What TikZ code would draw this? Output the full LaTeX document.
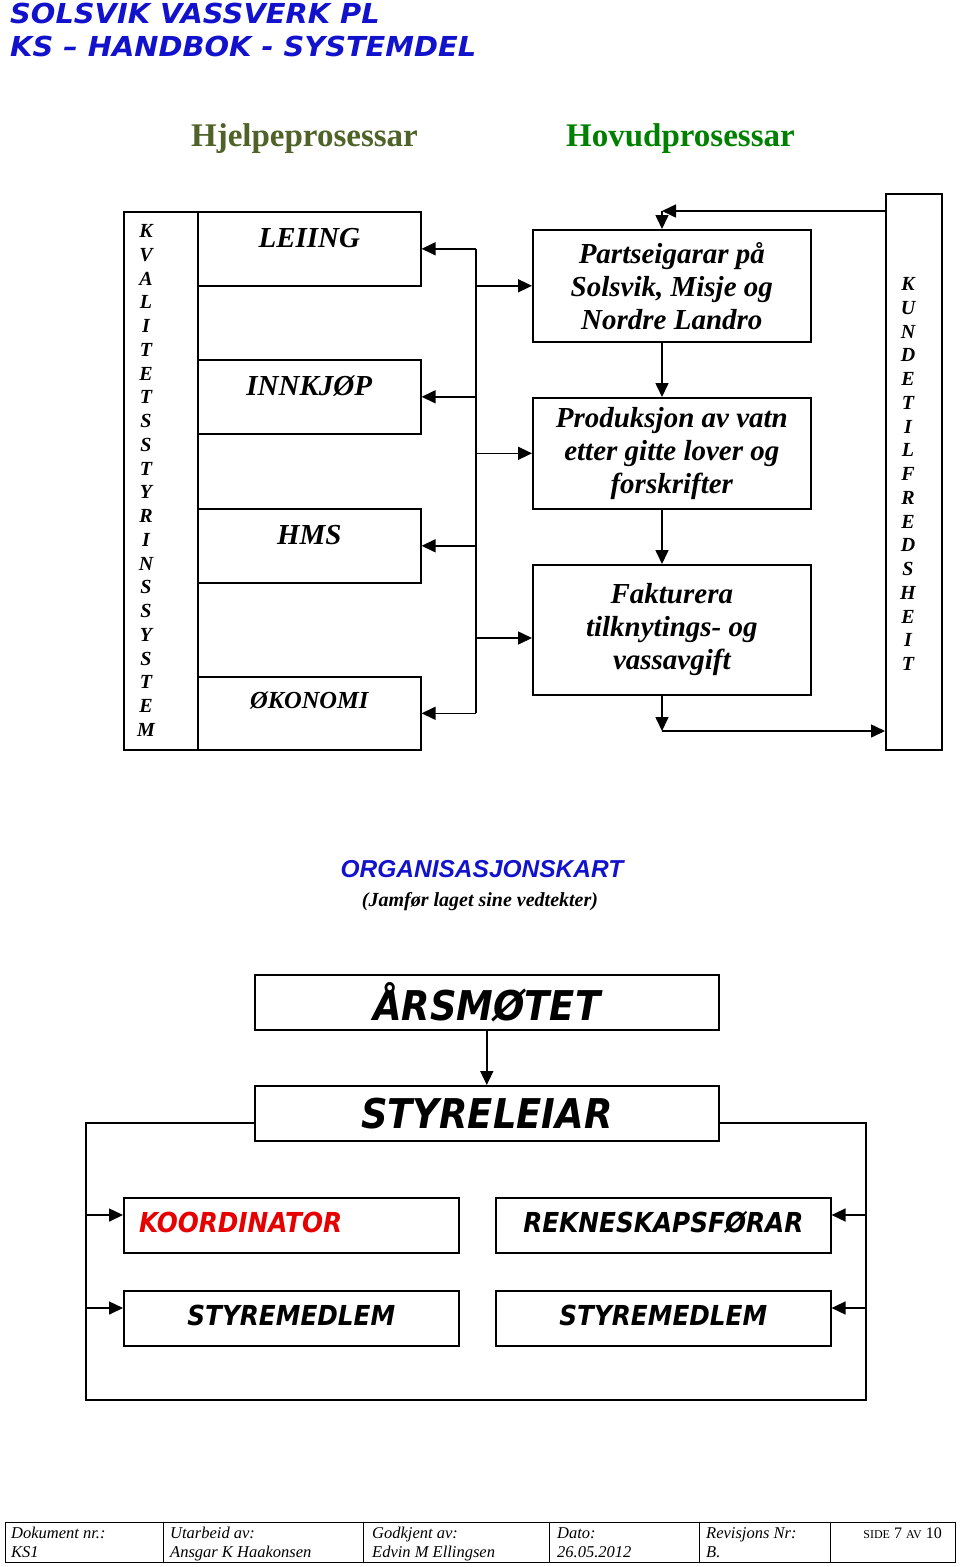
\documentclass[tikz,border=0pt]{standalone}
\usepackage{fontspec}
\setmainfont{Liberation Serif}
\newfontfamily\headfont[FakeStretch=1.05]{DejaVu Sans}
\newfontfamily\orgfont[FakeStretch=0.9]{DejaVu Sans}
\newfontfamily\arialfont{Liberation Sans}
\usetikzlibrary{positioning,arrows.meta}
\definecolor{headblue}{RGB}{18,18,205}
\definecolor{hjelpgreen}{RGB}{79,98,40}
\definecolor{hovudgreen}{RGB}{0,128,0}
\definecolor{koordred}{RGB}{230,0,0}
\tikzset{
  box/.style       = {draw, line width=1.6pt, rectangle, inner sep=0pt, align=center},
  hjelpbox/.style  = {box, minimum width=223pt, minimum height=74pt, anchor=north west},
  hovudbox/.style  = {box, minimum width=278pt, anchor=north west,
                      font=\fontsize{29}{33}\selectfont\bfseries\itshape},
  hjelptext/.style = {inner sep=0pt, font=\fontsize{29}{33}\selectfont\bfseries\itshape},
  letter/.style    = {inner sep=0pt, font=\fontsize{20}{24}\selectfont\bfseries\itshape},
  orgbox/.style    = {box, minimum width=464pt, minimum height=55pt, anchor=north west,
                      font=\orgfont\fontsize{41}{45}\selectfont\bfseries\itshape},
  rollebox/.style  = {box, minimum width=335pt, minimum height=55pt, anchor=north west},
  rolletext/.style = {inner sep=0pt, font=\orgfont\fontsize{27.5}{31}\selectfont\bfseries\itshape},
  headtext/.style  = {anchor=base west, inner sep=0pt, text=headblue,
                      font=\headfont\fontsize{27.5}{33}\selectfont\bfseries\itshape},
  foottext/.style  = {anchor=base west, inner sep=0pt, font=\fontsize{16.5}{19}\selectfont\itshape},
  arr/.style       = {line width=1.6pt, -{Triangle[length=14pt,width=13pt]}},
  line/.style      = {line width=1.6pt},
}

\begin{document}
\begin{tikzpicture}[x=1pt,y=-1pt]
    \useasboundingbox (0,0) rectangle (960,1567);

    \node[headtext] (tittel1) at (10,23) {SOLSVIK VASSVERK PL};
    \node[headtext] (tittel2) at (10,56) {KS – HANDBOK - SYSTEMDEL};
    \node[anchor=base, inner sep=0pt, text=hjelpgreen, font=\fontsize{33}{38}\selectfont\bfseries]
        (hjelp) at (304.5,146) {Hjelpeprosessar};
    \node[anchor=base, inner sep=0pt, text=hovudgreen, font=\fontsize{33}{38}\selectfont\bfseries]
        (hovud) at (680.5,146) {Hovudprosessar};

    % hjelpeprosessar
    \node[box, anchor=north west, minimum width=74pt, minimum height=538pt] (kvalitet) at (123,211) {};
    \foreach \c [count=\i from 0] in {K,V,A,L,I,T,E,T,S,S,T,Y,R,I,N,S,S,Y,S,T,E,M}
        \node[letter] (kv\i) at (146,231+23.76*\i) {\c};
    \node[hjelpbox] (leiing) at (197,211) {};
    \node[hjelptext] (leiingtekst) at ([yshift=11pt]leiing.center) {LEIING};
    \node[hjelpbox] (innkjop) at (197,359) {};
    \node[hjelptext] (innkjoptekst) at ([yshift=11pt]innkjop.center) {INNKJØP};
    \node[hjelpbox] (hms) at (197,508) {};
    \node[hjelptext] (hmstekst) at ([yshift=11pt]hms.center) {HMS};
    \node[hjelpbox, minimum height=73pt] (okonomi) at (197,676) {};
    \node[hjelptext, font=\fontsize{24.5}{28}\selectfont\bfseries\itshape] (okonomitekst)
        at ([yshift=13pt]okonomi.center) {ØKONOMI};

    % hovudprosessar
    \node[hovudbox, minimum height=112pt] (parts) at (532,229) {Partseigarar på\\Solsvik, Misje og\\Nordre Landro};
    \node[hovudbox, minimum height=111pt] (prod) at (532,397) {Produksjon av vatn\\etter gitte lover og\\forskrifter};
    \node[hovudbox, minimum height=130pt] (fakt) at (532,564) {Fakturera\\tilknytings- og\\vassavgift};
    \node[box, anchor=north west, minimum width=56pt, minimum height=556pt] (kunde) at (885,193) {};
    \foreach \c [count=\i from 0] in {K,U,N,D,E,T,I,L,F,R,E,D,S,H,E,I,T}
        \node[letter] (ku\i) at (908,284+23.75*\i) {\c};

    \coordinate (bus) at (476,0);
    \draw[line] (bus |- leiing.east) -- (bus |- okonomi.east);
    \foreach \n in {leiing,innkjop,hms,okonomi}
        \draw[arr] (bus |- \n.east) -- (\n.east);
    \draw[arr] (bus |- parts.west) -- (parts.west);
    \draw[arr] (bus |- prod.west) -- (prod.west);
    \draw[arr] (bus |- 0,638) -- (fakt.west |- 0,638);

    \coordinate (akse) at (662,0);
    \draw[arr] (akse |- parts.south) -- (akse |- prod.north);
    \draw[arr] (akse |- prod.south) -- (akse |- fakt.north);
    \coordinate (sloyfe ned) at (662,731);
    \coordinate (sloyfe opp) at (662,211);
    \draw[arr] (akse |- fakt.south) -- (sloyfe ned);
    \draw[arr] (sloyfe ned) -- (kunde.west |- sloyfe ned);
    \draw[arr] (kunde.west |- sloyfe opp) -- (sloyfe opp);
    \draw[arr] (sloyfe opp) -- (akse |- parts.north);

    % organisasjonskart
    \node[anchor=base, inner sep=0pt, text=headblue, font=\arialfont\fontsize{24.5}{28}\selectfont\bfseries\itshape]
        (orgtittel) at (482,877) {ORGANISASJONSKART};
    \node[anchor=base, inner sep=0pt, font=\fontsize{20}{24}\selectfont\bfseries\itshape]
        (orgmerknad) at (480,906) {(Jamfør laget sine vedtekter)};

    \node[orgbox] (arsmote) at (254,974) {ÅRSMØTET};
    \node[orgbox] (styreleiar) at (254,1085) {STYRELEIAR};
    \draw[arr] (arsmote.south) -- (styreleiar.north);

    \node[rollebox] (koord) at (123,1197) {};
    \node[rolletext, anchor=west, text=koordred] (koordtekst) at ([xshift=16pt,yshift=3pt]koord.west) {KOORDINATOR};
    \node[rollebox] (rekneskap) at (495,1197) {};
    \node[rolletext] (rekneskaptekst) at ([yshift=3pt]rekneskap.center) {REKNESKAPSFØRAR};
    \node[rollebox] (medlem1) at (123,1290) {};
    \node[rolletext] (medlem1tekst) at ([yshift=3pt]medlem1.center) {STYREMEDLEM};
    \node[rollebox] (medlem2) at (495,1290) {};
    \node[rolletext] (medlem2tekst) at ([yshift=3pt]medlem2.center) {STYREMEDLEM};

    \coordinate (ramme vo) at (86,1123);
    \coordinate (ramme ho) at (866,1123);
    \coordinate (ramme vn) at (86,1400);
    \coordinate (ramme hn) at (866,1400);
    \draw[line] (styreleiar.west |- ramme vo) -- (ramme vo) -- (ramme vn) -- (ramme hn) -- (ramme ho) -- (styreleiar.east |- ramme ho);
    \draw[arr] (ramme vo |- 0,1215) -- (koord.west |- 0,1215);
    \draw[arr] (ramme vo |- 0,1308) -- (medlem1.west |- 0,1308);
    \draw[arr] (ramme ho |- 0,1215) -- (rekneskap.east |- 0,1215);
    \draw[arr] (ramme ho |- 0,1308) -- (medlem2.east |- 0,1308);

    % bunntekst
    \draw[line width=1pt] (5,1522) rectangle (955,1562);
    \foreach \x in {163,363,549,699,830}
        \draw[line width=1pt] (\x,1522) -- (\x,1562);
    \node[foottext] (dok) at (11,1538) {Dokument nr.:};
    \node[foottext] (doknr) at (11,1557) {KS1};
    \node[foottext] (utarb) at (170,1538) {Utarbeid av:};
    \node[foottext] (utarbnamn) at (170,1557) {Ansgar K Haakonsen};
    \node[foottext] (godkj) at (372,1538) {Godkjent av:};
    \node[foottext] (godkjnamn) at (372,1557) {Edvin M Ellingsen};
    \node[foottext] (dato) at (557,1538) {Dato:};
    \node[foottext] (datoverdi) at (557,1557) {26.05.2012};
    \node[foottext] (rev) at (706,1538) {Revisjons Nr:};
    \node[foottext] (revnr) at (706,1557) {B.};
    \node[anchor=base east, inner sep=0pt, font=\fontsize{16}{19}\selectfont] (side) at (942,1538)
        {{\fontsize{12}{14}\selectfont SIDE} 7 {\fontsize{12}{14}\selectfont AV} 10};
\end{tikzpicture}
\end{document}
